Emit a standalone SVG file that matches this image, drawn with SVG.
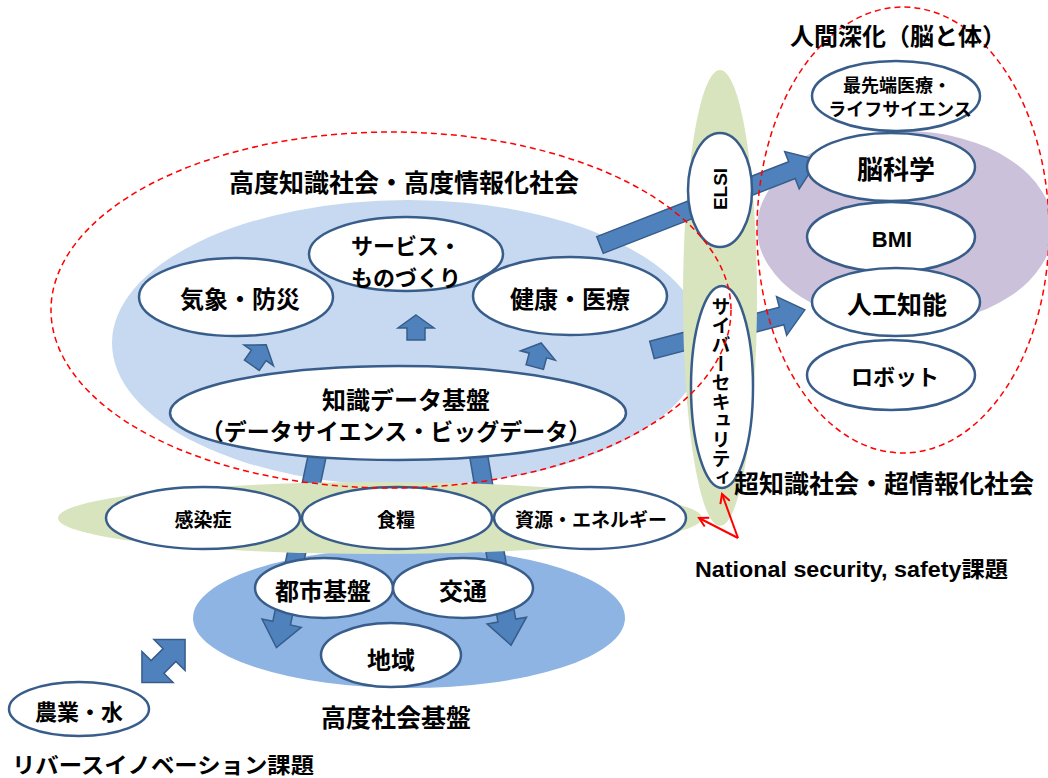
<svg xmlns="http://www.w3.org/2000/svg" width="1048" height="778" viewBox="0 0 1048 778">
<defs>
<style>
.n{fill:#fff;stroke:#385d8a;stroke-width:2.5}
.ba{fill:#4f81bd;stroke:#385d8a;stroke-width:1.5}
.dash{fill:none;stroke:#ff0000;stroke-width:1.5;stroke-dasharray:6 4}
.t{font-family:"Noto Sans CJK JP","Noto Sans CJK SC",sans-serif;font-weight:bold;text-anchor:middle;dominant-baseline:central;fill:#000}
.l{font-family:"Liberation Sans","Noto Sans CJK JP",sans-serif;font-weight:bold;fill:#000}
.red{fill:none;stroke:#ff0000;stroke-width:2}
</style>
<marker id="rh" markerWidth="12" markerHeight="12" refX="10" refY="6" orient="auto" markerUnits="userSpaceOnUse">
<path d="M1,1 L10,6 L1,11" fill="none" stroke="#ff0000" stroke-width="2"/>
</marker>
</defs>

<g id="backgrounds">
<ellipse cx="408" cy="343" rx="296" ry="143" fill="#c6d9f1"/>
<ellipse cx="409" cy="618" rx="216" ry="70" fill="#8eb4e3"/>
<ellipse cx="905" cy="228" rx="148" ry="97" fill="#ccc1da"/>
</g>

<g id="connectors">
<path class="ba" transform="translate(318,452) rotate(102)" d="M0,-9 L175,-9 L175,-20 L200,0 L175,20 L175,9 L0,9 Z"/>
<path class="ba" transform="translate(478,452) rotate(80.3)" d="M0,-9 L171,-9 L171,-20 L196,0 L171,20 L171,9 L0,9 Z"/>
<path class="ba" transform="translate(652,350) rotate(-14.7)" d="M0,-9 L134,-9 L134,-20 L158,0 L134,20 L134,9 L0,9 Z"/>
</g>

<g id="green-areas">
<ellipse cx="720" cy="298" rx="37" ry="228" fill="#d7e4bd"/>
<ellipse cx="380" cy="518" rx="322" ry="36" fill="#d7e4bd"/>
</g>

<g id="connectors-upper">
<path class="ba" transform="translate(600,245) rotate(-21.3)" d="M0,-9 L206,-9 L206,-20 L234,0 L206,20 L206,9 L0,9 Z"/>
<path class="ba" transform="translate(416,327.5)" d="M0,-12.5 L18,0.5 L9,0.5 L9,12.5 L-9,12.5 L-9,0.5 L-18,0.5 Z"/>
<path class="ba" transform="translate(259,355) rotate(35)" d="M0,-12.5 L18,0.5 L9,0.5 L9,12.5 L-9,12.5 L-9,0.5 L-18,0.5 Z"/>
<path class="ba" transform="translate(538,355) rotate(15)" d="M0,-12.5 L18,0.5 L9,0.5 L9,12.5 L-9,12.5 L-9,0.5 L-18,0.5 Z"/>
<path class="ba" transform="translate(163.5,661) rotate(-45)" d="M30.5,0 L8.5,-22 L8.5,-9 L-8.5,-9 L-8.5,-22 L-30.5,0 L-8.5,22 L-8.5,9 L8.5,9 L8.5,22 Z"/>
<path class="red" d="M738,538 L722,494" marker-end="url(#rh)"/>
<path class="red" d="M738,538 L699,518" marker-end="url(#rh)"/>
</g>

<g id="node-kisho"><ellipse class="n" cx="236" cy="297" rx="97" ry="39"/><text class="t" x="240" y="297" font-size="24">気象・防災</text></g>
<g id="node-service"><ellipse class="n" cx="406" cy="254" rx="97" ry="37"/><text class="t" x="406" y="244" font-size="22">サービス・</text><text class="t" x="406" y="276" font-size="22">ものづくり</text></g>
<g id="node-kenko"><ellipse class="n" cx="570" cy="296" rx="97" ry="39"/><text class="t" x="570" y="297" font-size="24">健康・医療</text></g>
<g id="node-chishiki"><ellipse class="n" cx="398" cy="413" rx="228" ry="47"/><text class="t" x="406" y="398" font-size="24">知識データ基盤</text><text class="t" x="396" y="430" font-size="23">（データサイエンス・ビッグデータ）</text></g>

<g id="node-kansen"><ellipse class="n" cx="203" cy="518" rx="97" ry="31"/><text class="t" x="203" y="518" font-size="19">感染症</text></g>
<g id="node-shokuryo"><ellipse class="n" cx="397" cy="518" rx="95" ry="31"/><text class="t" x="396" y="518" font-size="19">食糧</text></g>
<g id="node-shigen"><ellipse class="n" cx="590" cy="518" rx="96" ry="31"/><text class="t" x="591" y="518" font-size="19">資源・エネルギー</text></g>

<g id="node-toshi"><ellipse class="n" cx="324" cy="588" rx="69" ry="30"/><text class="t" x="323" y="589" font-size="24">都市基盤</text></g>
<g id="node-kotsu"><ellipse class="n" cx="463" cy="588" rx="70" ry="30"/><text class="t" x="463" y="589" font-size="24">交通</text></g>
<g id="node-chiiki"><ellipse class="n" cx="391" cy="655" rx="70" ry="32"/><text class="t" x="391" y="658" font-size="24">地域</text></g>

<g id="node-nogyo"><ellipse class="n" cx="79" cy="709" rx="70" ry="27"/><text class="t" x="79" y="710" font-size="22">農業・水</text></g>

<g id="node-elsi"><ellipse class="n" cx="720" cy="190" rx="32" ry="57"/><text class="l" transform="translate(720,189) rotate(-90)" text-anchor="middle" dominant-baseline="central" font-size="19">ELSI</text></g>
<g id="node-cyber"><ellipse class="n" cx="722" cy="387" rx="31" ry="101"/><text x="721" y="392" font-size="19" text-anchor="middle" style="writing-mode:vertical-rl;text-orientation:upright;font-family:'Noto Sans CJK JP',sans-serif;font-weight:bold">サイバーセキュリティ</text></g>

<g id="node-saisentan"><ellipse class="n" cx="896" cy="96" rx="84" ry="35"/><text class="t" x="897" y="84" font-size="18">最先端医療・</text><text class="t" x="900" y="108" font-size="18">ライフサイエンス</text></g>
<g id="node-nou"><ellipse class="n" cx="891" cy="167" rx="84" ry="34"/><text class="t" x="896" y="167" font-size="26">脳科学</text></g>
<g id="node-bmi"><ellipse class="n" cx="891" cy="237" rx="84" ry="35"/><text class="l" x="892" y="239" font-size="22" text-anchor="middle" dominant-baseline="central">BMI</text></g>
<g id="node-ai"><ellipse class="n" cx="896" cy="302" rx="84" ry="34"/><text class="t" x="897" y="303" font-size="25">人工知能</text></g>
<g id="node-robot"><ellipse class="n" cx="891" cy="375" rx="84" ry="35"/><text class="t" x="895" y="375" font-size="22">ロボット</text></g>

<g id="regions">
<ellipse class="dash" cx="391" cy="310" rx="340" ry="178"/>
<ellipse class="dash" cx="903" cy="230" rx="146" ry="223"/>
</g>

<g id="labels">
<text class="t" x="404" y="181" font-size="25">高度知識社会・高度情報化社会</text>
<text class="t" x="898" y="34" font-size="24">人間深化（脳と体）</text>
<text class="t" x="884" y="482" font-size="25">超知識社会・超情報化社会</text>
<text class="t" x="396" y="716" font-size="25">高度社会基盤</text>
<text class="t" x="12" y="763" font-size="22" textLength="302" lengthAdjust="spacingAndGlyphs" style="text-anchor:start">リバースイノベーション課題</text>
<text class="l" x="695" y="569" font-size="22" textLength="313" lengthAdjust="spacingAndGlyphs" dominant-baseline="central">National security, safety課題</text>
</g>
</svg>
